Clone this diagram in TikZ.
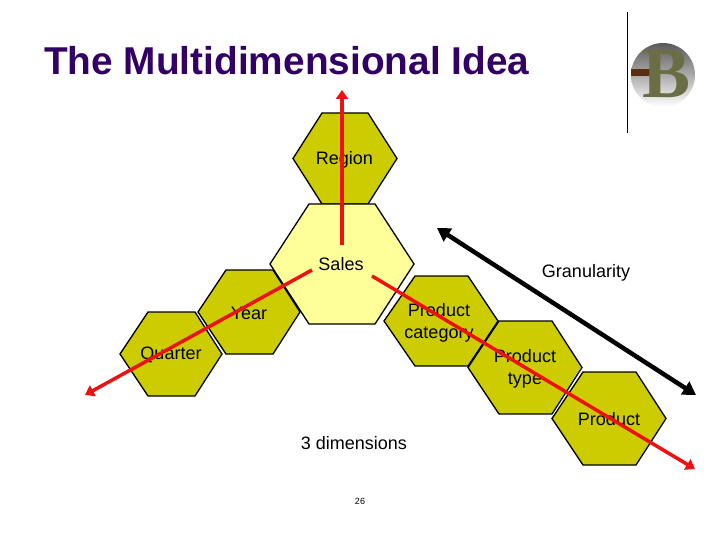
\documentclass[tikz,border=0pt]{standalone}
\usepackage{fontspec}
\setmainfont{Liberation Sans}
\newfontfamily\logofont{Liberation Serif}
\usetikzlibrary{arrows.meta}
\definecolor{olivehex}{HTML}{CCCC00}
\definecolor{palehex}{HTML}{FFFF99}
\definecolor{titlepurple}{HTML}{330066}
\definecolor{arrowred}{HTML}{EE1111}
\definecolor{logoGreen}{HTML}{6B6E45}
\definecolor{logoBrown}{HTML}{5A2E10}
\definecolor{logoMid}{HTML}{CFC8B4}
\tikzset{
  hexolive/.style={draw=black,line width=1.3pt,fill=olivehex,line join=miter},
  hexpale/.style={draw=black,line width=1.3pt,fill=palehex,line join=miter},
  lab/.style={inner sep=0pt,font=\fontsize{18}{22}\selectfont,align=center,text=black},
  redarrow/.style={draw=arrowred,line width=3.5pt,-{Triangle[length=9pt,width=12pt]}},
  blackarrow/.style={draw=black,line width=4.5pt,{Triangle[length=13pt,width=15pt]}-{Triangle[length=13pt,width=15pt]}}
}
% left, right, top, bottom, inner-left, inner-right
\newcommand{\hexa}[7]{\path[#1] (#2,{(#4+#5)/2}) -- (#6,#4) -- (#7,#4) -- (#3,{(#4+#5)/2}) -- (#7,#5) -- (#6,#5) -- cycle;}
\begin{document}
\begin{tikzpicture}[x=1pt,y=-1pt]
\useasboundingbox (0,0) rectangle (720,540);
\fill[white] (0,0) rectangle (720,540);
\node[inner sep=0pt,anchor=base west,text=titlepurple,font=\fontsize{38.8}{44}\selectfont\bfseries] (title) at (44,75) {The Multidimensional Idea};
% logo
\coordinate (rulea) at (627.5,12);
\coordinate (ruleb) at (627.5,133);
\draw[line width=1pt,black] (rulea) -- (ruleb);
\shade[top color=black!65,middle color=logoMid,bottom color=white,shading angle=0] (663,75) circle (32);
\fill[logoBrown] (631,69) rectangle (650,76);
\node[inner sep=0pt,text=logoGreen,font=\fontsize{72}{80}\selectfont\logofont\bfseries] (logoB) at (667,74) {B};
% hexagons
\hexa{hexolive}{293}{397}{113}{204}{322}{368}
\hexa{hexolive}{120}{222}{312}{396}{148}{195}
\hexa{hexolive}{198}{300}{270}{354}{226}{273}
\hexa{hexpale}{270}{414}{204}{324}{309}{375}
\hexa{hexolive}{384}{498}{276}{366}{415}{468}
\hexa{hexolive}{468}{582}{321}{414}{499}{552}
\hexa{hexolive}{552}{666}{372}{465}{583}{636}
% labels
\node[lab] (region) at (344.5,160) {Region};
\node[lab] (sales) at (341,264.5) {Sales};
\node[lab] (year) at (249,313) {Year};
\node[lab] (quarter) at (171,355) {Quarter};
\node[lab] (prodcat) at (439,322.5) {Product\\category};
\node[lab] (prodtype) at (525,368.5) {Product\\type};
\node[lab] (product) at (609,419) {Product};
\node[lab] (gran) at (586,273) {Granularity};
\node[lab] (dims) at (354,443) {3 dimensions};
\node[inner sep=0pt,font=\fontsize{9}{11}\selectfont] (page) at (360,501) {26};
% connectors
\coordinate (up0) at (342,245);
\coordinate (up1) at (342,90);
\coordinate (left0) at (312,270);
\coordinate (left1) at (85,395);
\coordinate (right0) at (372,276);
\coordinate (right1) at (695,469);
\coordinate (grana) at (437,228);
\coordinate (granb) at (696,395);
\draw[redarrow,line width=4pt] (up0) -- (up1);
\draw[redarrow] (left0) -- (left1);
\draw[redarrow] (right0) -- (right1);
\draw[blackarrow] (grana) -- (granb);
\end{tikzpicture}
\end{document}
